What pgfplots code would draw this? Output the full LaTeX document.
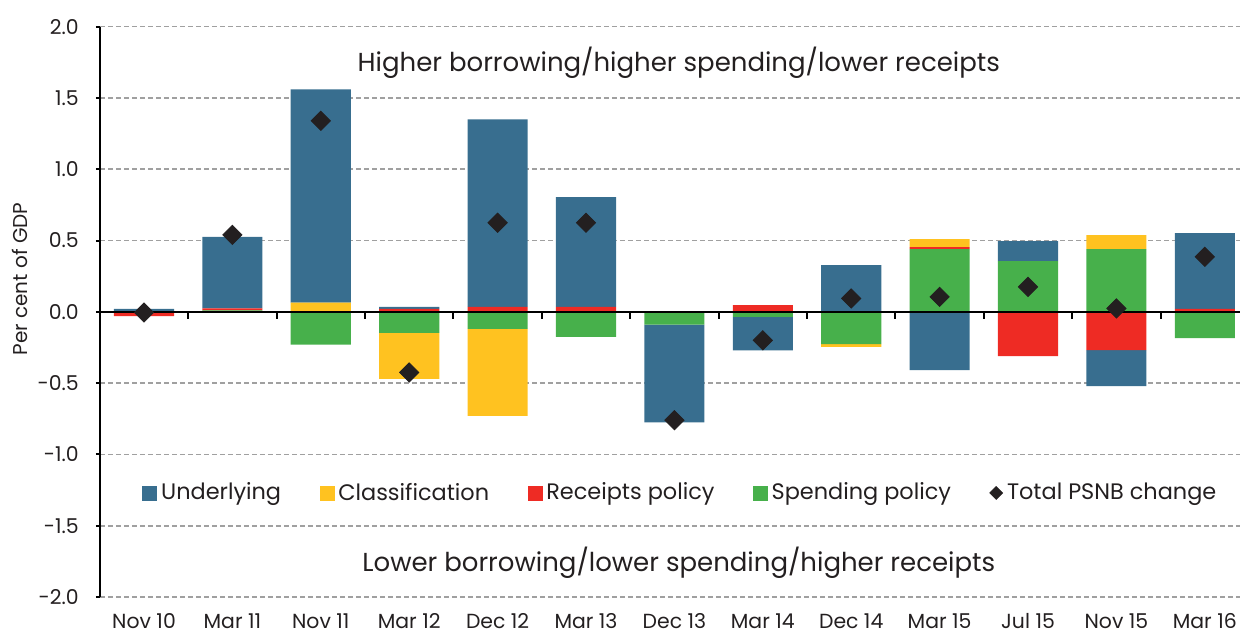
\documentclass[border=0pt]{standalone}
\usepackage{fontspec}
\setmainfont{Poppins}
\usepackage{pgfplots}
\usepackage{pgfplotstable}
\pgfplotsset{compat=1.18}
\definecolor{cU}{HTML}{386E8F}
\definecolor{cC}{HTML}{FFC220}
\definecolor{cR}{HTML}{EE2B24}
\definecolor{cS}{HTML}{47B04B}
\definecolor{cD}{HTML}{231F20}
\definecolor{cG}{HTML}{A0A0A0}

\pgfplotstableread{
x sp rp cp up sn rn cn un tot
0 0 0 0 0.02 0 -0.03 0 0 -0.005
1 0.01 0.015 0 0.50 0 0 0 0 0.54
2 0 0 0.065 1.495 -0.23 0 0 0 1.34
3 0 0.02 0 0.015 -0.147 0 -0.323 0 -0.425
4 0 0.035 0 1.315 -0.12 0 -0.61 0 0.625
5 0 0.035 0 0.77 -0.175 0 0 0 0.625
6 0 0 0 0 -0.09 0 0 -0.685 -0.76
7 0 0.047 0 0 -0.035 0 0 -0.236 -0.2
8 0 0 0 0.328 -0.227 0 -0.018 0 0.094
9 0.44 0.014 0.056 0 0 0 0 -0.409 0.105
10 0.356 0 0 0.14 0 -0.311 0 0 0.175
11 0.44 0 0.098 0 0 -0.269 0 -0.252 0.024
12 0 0.021 0 0.531 -0.185 0 0 0 0.386
}\data

\pgfplotsset{base/.style={scale only axis, width=574.6pt, height=285.15pt,
  xmin=-0.5, xmax=12.5, ymin=-2, ymax=2, enlargelimits=false, clip=false}}

\begin{document}
\begin{tikzpicture}
\begin{axis}[base, ybar stacked, bar width=0.68,
  axis lines*=left,
  x axis line style={draw=none},
  y axis line style={black, line width=1pt},
  xtick={0,...,12},
  xticklabels={Nov 10,Mar 11,Nov 11,Mar 12,Dec 12,Mar 13,Dec 13,Mar 14,Dec 14,Mar 15,Jul 15,Nov 15,Mar 16},
  xtick style={draw=none},
  ytick={-2,-1.5,-1,-0.5,0,0.5,1,1.5,2},
  ytick style={black, line width=1pt},
  tick align=outside, major tick length=2pt,
  ymajorgrids,
  major grid style={cG, line width=0.8pt, dash pattern=on 2.5pt off 1.5pt},
  tick label style={font=\fontsize{10.2}{11}\selectfont, text=cD},
  yticklabel style={xshift=-5pt, /pgf/number format/.cd, fixed, fixed zerofill, precision=1, assume math mode=true},
  xticklabel style={inner sep=0pt, yshift=-6pt},
  ylabel={Per cent of GDP},
  ylabel style={at={(axis description cs:-0.0694,0.5576)}, anchor=center, font=\fontsize{10}{11}\selectfont, text=cD},
]
\addplot[fill=cS, draw=none] table[x=x, y=sp]{\data};
\addplot[fill=cR, draw=none] table[x=x, y=rp]{\data};
\addplot[fill=cC, draw=none] table[x=x, y=cp]{\data};
\addplot[fill=cU, draw=none] table[x=x, y=up]{\data};
\end{axis}
\begin{axis}[base, hide axis, ybar stacked, bar width=0.68]
\addplot[fill=cS, draw=none] table[x=x, y=sn]{\data};
\addplot[fill=cR, draw=none] table[x=x, y=rn]{\data};
\addplot[fill=cC, draw=none] table[x=x, y=cn]{\data};
\addplot[fill=cU, draw=none] table[x=x, y=un]{\data};
\end{axis}
\begin{axis}[base, hide axis,
  legend columns=5,
  legend style={at={(axis description cs:0.0367,0.1824)}, anchor=west, draw=none, fill=none,
    inner sep=0pt, font=\fontsize{11.2}{12}\selectfont, text=cD,
    /tikz/every even column/.append style={column sep=17.2pt}},
  legend cell align=left]
\addplot[forget plot, black, line width=1pt] coordinates {(-0.5,0) (12.5,0)};
\pgfplotsinvokeforeach{0.5,1.5,2.5,3.5,4.5,5.5,6.5,7.5,8.5,9.5,10.5,11.5}{
  \draw[black, line width=1pt] (axis cs:#1,0) -- ++(0pt,-3.5pt);
}
\addplot[forget plot, only marks, mark=square*, mark size=3.4pt,
  mark options={rotate=45, fill=cD, draw=cD}] table[x=x, y=tot]{\data};
\addlegendimage{legend image code/.code={\fill[cU] (0pt,-3.5pt) rectangle (7pt,3.5pt);}}
\addlegendimage{legend image code/.code={\fill[cC] (0pt,-3.5pt) rectangle (7pt,3.5pt);}}
\addlegendimage{legend image code/.code={\fill[cR] (0pt,-3.5pt) rectangle (7pt,3.5pt);}}
\addlegendimage{legend image code/.code={\fill[cS] (0pt,-3.5pt) rectangle (7pt,3.5pt);}}
\addlegendimage{legend image code/.code={\fill[cD] (3.5pt,-3.2pt) -- (6.7pt,0pt) -- (3.5pt,3.2pt) -- (0.3pt,0pt) -- cycle;}}
\legend{Underlying, Classification, Receipts policy, Spending policy, Total PSNB change}
\node[font=\fontsize{13}{14}\selectfont, text=cD] at (axis cs:6.05,1.745) {Higher borrowing/higher spending/lower receipts};
\node[font=\fontsize{13}{14}\selectfont, text=cD] at (axis cs:6.05,-1.757) {Lower borrowing/lower spending/higher receipts};
\end{axis}
\pgfresetboundingbox
\path[use as bounding box] (-49.9pt,-19pt) rectangle (570.1pt,298.5pt);
\end{tikzpicture}
\end{document}
